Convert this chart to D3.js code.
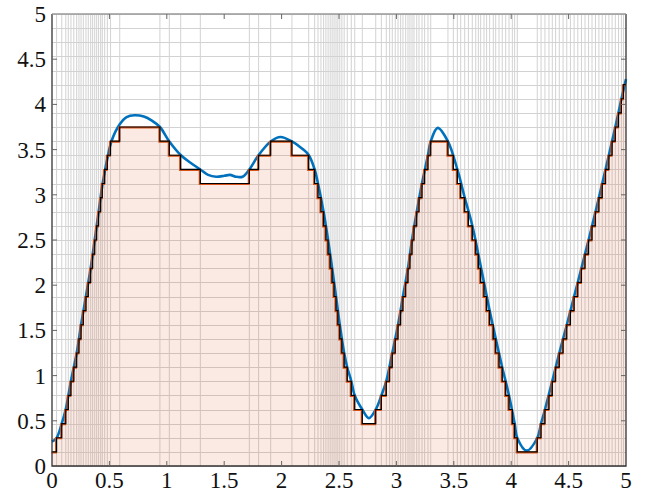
<!DOCTYPE html>
<meta charset="utf-8">
<body>
<script src="https://cdn.jsdelivr.net/npm/d3@7"></script>
<style>
    html, body {
        margin: 0;
        background: #fff;
    }
</style>
<script>
var width = 646,
    height = 496,
    qStep = 5 / 32;   // quantisation step of the signal

// smooth signal
var curveX = [0, 0.04, 0.085, 0.12, 0.165, 0.215, 0.253, 0.296, 0.337, 0.372, 0.406, 0.438, 0.482, 0.52,
    0.59, 0.65, 0.72, 0.8, 0.87, 0.94, 1.022, 1.121, 1.2, 1.292, 1.36, 1.43, 1.5, 1.55, 1.6, 1.66,
    1.719, 1.8, 1.905, 1.99, 2.09, 2.18, 2.236, 2.288, 2.317, 2.366, 2.405, 2.44, 2.474, 2.507,
    2.545, 2.572, 2.607, 2.637, 2.703, 2.76, 2.82, 2.869, 2.912, 2.964, 3.014, 3.057, 3.101, 3.136,
    3.177, 3.223, 3.275, 3.299, 3.36, 3.449, 3.531, 3.595, 3.661, 3.714, 3.763, 3.812, 3.865,
    3.922, 3.981, 4.03, 4.053, 4.135, 4.227, 4.26, 4.294, 4.358, 4.419, 4.484, 4.548, 4.612,
    4.674, 4.734, 4.793, 4.851, 4.907, 4.96, 5];
var curveY = [0.27, 0.31, 0.47, 0.63, 0.94, 1.25, 1.56, 1.88, 2.19, 2.5, 2.81, 3.1, 3.4, 3.6,
    3.78, 3.86, 3.88, 3.865, 3.82, 3.75, 3.59, 3.44, 3.36, 3.28, 3.22, 3.2, 3.21, 3.22, 3.2, 3.2,
    3.28, 3.44, 3.59, 3.64, 3.59, 3.51, 3.44, 3.28, 3.125, 2.81, 2.5, 2.19, 1.875, 1.56,
    1.25, 1.09, 0.94, 0.78, 0.625, 0.53, 0.625, 0.78, 0.94, 1.25, 1.56, 1.875, 2.19, 2.5,
    2.81, 3.125, 3.44, 3.59, 3.74, 3.59, 3.28, 2.97, 2.66, 2.34, 2.03, 1.72, 1.41,
    1.09, 0.78, 0.47, 0.31, 0.17, 0.31, 0.47, 0.625, 0.94, 1.25, 1.56, 1.875, 2.19,
    2.5, 2.81, 3.125, 3.44, 3.75, 4.06, 4.28];

// quantised signal: where each step starts and its level (in units of qStep)
var stepX = [0, 0.04, 0.085, 0.12, 0.142, 0.165, 0.19, 0.215, 0.235, 0.253, 0.273, 0.296, 0.316, 0.337,
    0.354, 0.372, 0.389, 0.406, 0.424, 0.438, 0.459, 0.482, 0.51, 0.59,
    0.94, 1.022, 1.121, 1.292,
    1.719, 1.8, 1.905,
    2.09, 2.236, 2.288, 2.317, 2.343, 2.366, 2.386, 2.405, 2.423, 2.44, 2.457, 2.474, 2.49, 2.507,
    2.525, 2.545, 2.572, 2.607, 2.637, 2.703,
    2.82, 2.869, 2.912, 2.941, 2.964, 2.99, 3.014, 3.037, 3.057, 3.081, 3.101, 3.118, 3.136, 3.153,
    3.177, 3.197, 3.223, 3.246, 3.275, 3.299,
    3.449, 3.496, 3.531, 3.56, 3.595, 3.627, 3.661, 3.691, 3.714, 3.734, 3.763, 3.786, 3.812, 3.844,
    3.865, 3.894, 3.922, 3.952, 3.981, 4.01, 4.03, 4.053,
    4.227, 4.26, 4.294, 4.329, 4.358, 4.387, 4.419, 4.452, 4.484, 4.516, 4.548, 4.58, 4.612, 4.643,
    4.674, 4.704, 4.734, 4.764, 4.793, 4.822, 4.851, 4.879, 4.907, 4.935, 4.96, 4.978];
var stepLevel = [1, 2, 3, 4, 5, 6, 7, 8, 9, 10, 11, 12, 13, 14, 15, 16, 17, 18, 19, 20, 21, 22, 23, 24,
    23, 22, 21, 20,
    21, 22, 23,
    22, 21, 20, 19, 18, 17, 16, 15, 14, 13, 12, 11, 10, 9, 8, 7, 6, 5, 4, 3,
    4, 5, 6, 7, 8, 9, 10, 11, 12, 13, 14, 15, 16, 17, 18, 19, 20, 21, 22, 23,
    22, 21, 20, 19, 18, 17, 16, 15, 14, 13, 12, 11, 10, 9, 8, 7, 6, 5, 4, 3, 2, 1,
    2, 3, 4, 5, 6, 7, 8, 9, 10, 11, 12, 13, 14, 15, 16, 17, 18, 19, 20, 21, 22, 23, 24, 25, 26, 27];

var xTicks = [0, 0.5, 1, 1.5, 2, 2.5, 3, 3.5, 4, 4.5, 5],
    yTicks = [0, 0.5, 1, 1.5, 2, 2.5, 3, 3.5, 4, 4.5, 5],
    nLevels = 32;

var margin = {top: 14, right: 20, bottom: 30, left: 52},
    font = "'Liberation Serif', 'Times New Roman', 'DejaVu Serif', serif";

var x = d3.scaleLinear().domain([0, 5]).range([margin.left, width - margin.right]),
    y = d3.scaleLinear().domain([0, 5]).range([height - margin.bottom, margin.top]);

var svg = d3.select("body").append("svg")
    .attr("width", width)
    .attr("height", height);

var curve = curveX.map(function(d, i) { return [d, curveY[i]]; });
var steps = stepX.map(function(d, i) { return [d, stepLevel[i] * qStep]; });
steps.push([5, steps[steps.length - 1][1]]);

// grid: one line per quantisation level and one per step edge
var grid = svg.append("g")
    .attr("stroke", "#d2d2d2")
    .attr("stroke-width", 1);

grid.selectAll(".h")
    .data(d3.range(nLevels + 1))
    .enter().append("line")
    .attr("x1", x(0))
    .attr("x2", x(5))
    .attr("y1", function(d) { return Math.round(y(d * qStep)) + 0.5; })
    .attr("y2", function(d) { return Math.round(y(d * qStep)) + 0.5; });

grid.selectAll(".v")
    .data(stepX.slice(1))
    .enter().append("line")
    .attr("y1", y(0))
    .attr("y2", y(5))
    .attr("x1", function(d) { return x(d); })
    .attr("x2", function(d) { return x(d); });

// area under the quantised signal
svg.append("path")
    .datum(steps)
    .attr("fill", "#D95319")
    .attr("fill-opacity", 0.12)
    .attr("d", d3.area()
        .curve(d3.curveStepAfter)
        .x(function(d) { return x(d[0]); })
        .y0(y(0))
        .y1(function(d) { return y(d[1]); }));

svg.append("path")
    .datum(curve)
    .attr("fill", "none")
    .attr("stroke", "#0072BD")
    .attr("stroke-width", 2.6)
    .attr("d", d3.line()
        .curve(d3.curveCatmullRom.alpha(0.5))
        .x(function(d) { return x(d[0]); })
        .y(function(d) { return y(d[1]); }));

var stepLine = d3.line()
    .curve(d3.curveStepAfter)
    .x(function(d) { return x(d[0]); })
    .y(function(d) { return y(d[1]); });

svg.append("path")
    .datum(steps)
    .attr("fill", "none")
    .attr("stroke", "#D95319")
    .attr("stroke-width", 2)
    .attr("transform", "translate(-0.6,0.6)")
    .attr("d", stepLine);

svg.append("path")
    .datum(steps)
    .attr("fill", "none")
    .attr("stroke", "#000")
    .attr("stroke-width", 1.2)
    .attr("d", stepLine);

// frame
var x0 = x(0), x1 = x(5), y0 = y(0), y1 = y(5);
svg.append("path")
    .attr("fill", "none")
    .attr("stroke", "#333")
    .attr("stroke-width", 1.3)
    .attr("d", "M" + [x0, y1] + "L" + [x0, y0] + "L" + [x1, y0] + "L" + [x1, y1]);
svg.append("line")
    .attr("x1", x0).attr("x2", x1)
    .attr("y1", y1).attr("y2", y1)
    .attr("stroke", "#999")
    .attr("stroke-width", 1.3);

// inward ticks on all four sides
var ticks = svg.append("g")
    .attr("stroke", "#666")
    .attr("stroke-width", 1);

xTicks.slice(1, -1).forEach(function(t) {
    ticks.append("line").attr("x1", x(t)).attr("x2", x(t)).attr("y1", y0).attr("y2", y0 - 5);
    ticks.append("line").attr("x1", x(t)).attr("x2", x(t)).attr("y1", y1).attr("y2", y1 + 5);
});
yTicks.slice(1, -1).forEach(function(t) {
    ticks.append("line").attr("y1", y(t)).attr("y2", y(t)).attr("x1", x0).attr("x2", x0 + 5);
    ticks.append("line").attr("y1", y(t)).attr("y2", y(t)).attr("x1", x1).attr("x2", x1 - 5);
});

svg.selectAll(".xl")
    .data(xTicks)
    .enter().append("text")
    .attr("x", function(d) { return x(d); })
    .attr("y", y0 + 22)
    .attr("text-anchor", "middle")
    .attr("font-family", font)
    .attr("font-size", 23)
    .attr("fill", "#111")
    .text(function(d) { return d; });

svg.selectAll(".yl")
    .data(yTicks)
    .enter().append("text")
    .attr("x", x0 - 6)
    .attr("y", function(d) { return y(d) + 8; })
    .attr("text-anchor", "end")
    .attr("font-family", font)
    .attr("font-size", 23)
    .attr("fill", "#111")
    .text(function(d) { return d; });
</script>
